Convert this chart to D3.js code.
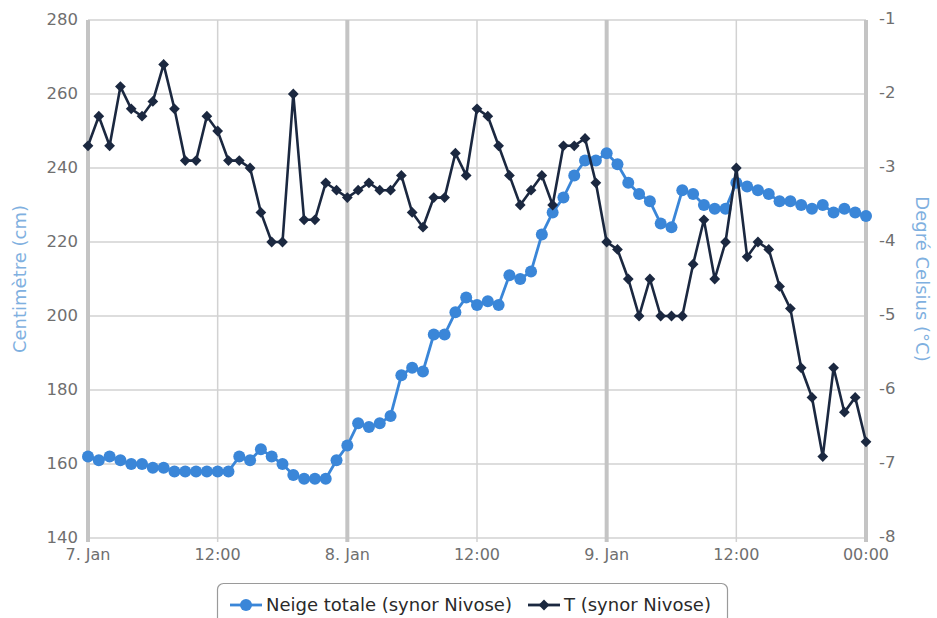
<!DOCTYPE html>
<html><head><meta charset="utf-8">
<script src="https://cdn.jsdelivr.net/npm/d3@7"></script>
<style>
body{margin:0;background:#fff;}
svg{display:block;font-family:"DejaVu Sans",Verdana,sans-serif;}
</style></head>
<body><svg id="chart" width="937" height="618"></svg>
<script>
const startTime = Date.UTC(2015,0,7,0,0);
const snowValues = [162,161,162,161,160,160,159,159,158,158,158,158,158,158,162,161,164,162,160,157,156,156,156,161,165,171,170,171,173,184,186,185,195,195,201,205,203,204,203,211,210,212,222,228,232,238,242,242,244,241,236,233,231,225,224,234,233,230,229,229,236,235,234,233,231,231,230,229,230,228,229,228,227];
const tempValues = [-2.7,-2.3,-2.7,-1.9,-2.2,-2.3,-2.1,-1.6,-2.2,-2.9,-2.9,-2.3,-2.5,-2.9,-2.9,-3.0,-3.6,-4.0,-4.0,-2.0,-3.7,-3.7,-3.2,-3.3,-3.4,-3.3,-3.2,-3.3,-3.3,-3.1,-3.6,-3.8,-3.4,-3.4,-2.8,-3.1,-2.2,-2.3,-2.7,-3.1,-3.5,-3.3,-3.1,-3.5,-2.7,-2.7,-2.6,-3.2,-4.0,-4.1,-4.5,-5.0,-4.5,-5.0,-5.0,-5.0,-4.3,-3.7,-4.5,-4.0,-3.0,-4.2,-4.0,-4.1,-4.6,-4.9,-5.7,-6.1,-6.9,-5.7,-6.3,-6.1,-6.7];
const xTickHours = [0,12,24,36,48,60,72];
const xTickLabels = ["7. Jan","12:00","8. Jan","12:00","9. Jan","12:00","00:00"];
const leftTicks = [140,160,180,200,220,240,260,280];
const rightTicks = [-8,-7,-6,-5,-4,-3,-2,-1];
const seriesNames = ["Neige totale (synor Nivose)","T (synor Nivose)"];
const axisTitles = ["Centimètre (cm)","Degré Celsius (°C)"];

const HOUR = 3600000;
const times = snowValues.map((_,i)=>new Date(startTime + i*HOUR));

const svg = d3.select("#chart");
const L=88, R=866, T=20, B=538;
const x = d3.scaleTime().domain([new Date(startTime), new Date(startTime+72*HOUR)]).range([L,R]);
const yL = d3.scaleLinear().domain([140,280]).range([B,T]);
const yR = d3.scaleLinear().domain([-8,-1]).range([B,T]);

const snowColor="#3a86d8", tColor="#1b2840";

// horizontal grid
svg.append("g").selectAll("line").data(leftTicks).join("line")
  .attr("x1",L).attr("x2",R).attr("y1",d=>yL(d)).attr("y2",d=>yL(d))
  .attr("stroke","#d2d2d2").attr("stroke-width",1.5);
// vertical grid
svg.append("g").selectAll("line").data(xTickHours).join("line")
  .attr("x1",h=>x(new Date(startTime+h*HOUR))).attr("x2",h=>x(new Date(startTime+h*HOUR)))
  .attr("y1",T).attr("y2",B+4)
  .attr("stroke",h=>h%24===0?"#c4c4c4":"#d2d2d2")
  .attr("stroke-width",h=>h%24===0?4:1.5);

const tickColor="#6f6f6f";
// left axis labels
svg.append("g").selectAll("text").data(leftTicks).join("text")
  .attr("x",L-10).attr("y",d=>yL(d)-1).attr("dy","0.36em").attr("text-anchor","end")
  .attr("fill",tickColor).attr("font-size",16.5).text(d=>d);
// right axis labels
svg.append("g").selectAll("text").data(rightTicks).join("text")
  .attr("x",R+13).attr("y",d=>yR(d)-2).attr("dy","0.36em").attr("text-anchor","start")
  .attr("fill",tickColor).attr("font-size",16.5).text(d=>d);
// x labels
svg.append("g").selectAll("text").data(xTickHours).join("text")
  .attr("x",h=>x(new Date(startTime+h*HOUR))).attr("y",B+22).attr("text-anchor","middle")
  .attr("fill",tickColor).attr("font-size",16).text((h,i)=>xTickLabels[i]);

// axis titles
svg.append("text").attr("transform",`translate(26,${(T+B)/2}) rotate(-90)`)
  .attr("text-anchor","middle").attr("fill","#7fb0e0").attr("font-size",18).text(axisTitles[0]);
svg.append("text").attr("transform",`translate(916,${(T+B)/2}) rotate(90)`)
  .attr("text-anchor","middle").attr("fill","#7fb0e0").attr("font-size",18).text(axisTitles[1]);

// snow series
const snowLine = d3.line().x((d,i)=>x(times[i])).y(d=>yL(d));
svg.append("path").datum(snowValues).attr("d",snowLine).attr("fill","none")
  .attr("stroke",snowColor).attr("stroke-width",2.8);
svg.append("g").selectAll("circle").data(snowValues).join("circle")
  .attr("cx",(d,i)=>x(times[i])).attr("cy",d=>yL(d)).attr("r",6).attr("fill",snowColor);

// temp series
const tLine = d3.line().x((d,i)=>x(times[i])).y(d=>yR(d));
svg.append("path").datum(tempValues).attr("d",tLine).attr("fill","none")
  .attr("stroke",tColor).attr("stroke-width",2.6);
svg.append("g").selectAll("path").data(tempValues).join("path")
  .attr("transform",(d,i)=>`translate(${x(times[i])},${yR(d)}) rotate(45)`)
  .attr("d",d3.symbol().type(d3.symbolSquare).size(58)).attr("fill",tColor);

// legend
const lg = svg.append("g");
lg.append("rect").attr("x",217.5).attr("y",583.5).attr("width",510).attr("height",50).attr("rx",6)
  .attr("fill","#fff").attr("stroke","#9a9a9a").attr("stroke-width",1.2);
const items=[{x:230,color:snowColor,type:"c",name:seriesNames[0],tw:251},{x:528,color:tColor,type:"d",name:seriesNames[1],tw:154}];
items.forEach(it=>{
  const g=lg.append("g").attr("transform",`translate(${it.x},605)`);
  g.append("line").attr("x1",0).attr("x2",32).attr("y1",0).attr("y2",0).attr("stroke",it.color).attr("stroke-width",2.8);
  if(it.type==="c") g.append("circle").attr("cx",16).attr("cy",0).attr("r",6).attr("fill",it.color);
  else g.append("path").attr("transform","translate(16,0) rotate(45)").attr("d",d3.symbol().type(d3.symbolSquare).size(58)).attr("fill",it.color);
  g.append("text").attr("x",36).attr("y",0).attr("dy","0.36em").attr("fill","#2a2a2a").attr("font-size",18).text(it.name);
});
</script></body></html>
